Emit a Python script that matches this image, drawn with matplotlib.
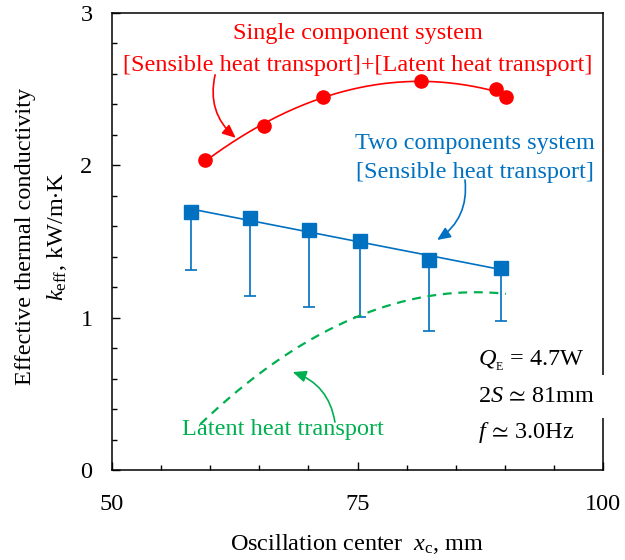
import numpy as np
import matplotlib
matplotlib.use("Agg")
import matplotlib.pyplot as plt
from matplotlib.patches import Rectangle

plt.rcParams['font.family'] = ['Liberation Serif', 'DejaVu Serif']
plt.rcParams['mathtext.fontset'] = 'custom'
plt.rcParams['mathtext.rm'] = 'Liberation Serif'
plt.rcParams['mathtext.it'] = 'Liberation Serif:italic'
plt.rcParams['mathtext.fallback'] = 'stix'

# Single component system (red circles)
x_single = [59.5, 65.5, 71.5, 81.5, 89.1, 90.1]
k_single = [2.035, 2.26, 2.45, 2.555, 2.50, 2.45]

# Two components system (blue squares) with lower error bound
x_two = [58.0, 64.05, 70.05, 75.25, 82.3, 89.6]
k_two = [1.695, 1.655, 1.575, 1.505, 1.38, 1.325]
k_two_low = [1.31, 1.143, 1.07, 1.002, 0.911, 0.976]

red = '#FF0000'
blue = '#0070C0'
green = '#00B050'
FS = 17.5

fig = plt.figure(figsize=(6.25, 5.6), dpi=100)
ax = fig.add_axes([112/625, 90/560, 491/625, 457/560])

# fits
p_red = np.polyfit(x_single, k_single, 2)
p_blue = np.polyfit(x_two, k_two, 1)
xr = np.linspace(min(x_single), max(x_single), 200)
xb = np.linspace(min(x_two), max(x_two), 200)
xg = np.linspace(59.0, max(x_single), 200)

ax.plot(xr, np.polyval(p_red, xr), color=red, lw=1.2, zorder=3)
ax.plot(x_single, k_single, 'o', color=red, ms=9.5, zorder=4)

ax.plot(xb, np.polyval(p_blue, xb), color=blue, lw=1.2, zorder=3)
lower = np.array(k_two) - np.array(k_two_low)
ax.errorbar(x_two, k_two, yerr=[lower, np.zeros_like(lower)], fmt='none',
            ecolor=blue, elinewidth=1.2, capsize=4.3, capthick=1.2, zorder=3)
ax.plot(x_two, k_two, 's', color=blue, ms=10, zorder=4)

ax.plot(xg, np.polyval(p_red, xg) - np.polyval(p_blue, xg), color=green,
        lw=1.6, ls=(0, (4, 3)), zorder=3)

ax.set_xlim(50, 100)
ax.set_ylim(0, 3)
ax.set_xticks([50, 75, 100])
ax.set_xticks(np.arange(50, 101, 5), minor=True)
ax.set_yticks([0, 1, 2, 3])
ax.set_yticks(np.arange(0, 3.01, 0.2), minor=True)
ax.tick_params(which='both', direction='in', labelsize=FS, width=1.0)
ax.tick_params(which='major', length=5.5)
ax.tick_params(which='minor', length=3.8)
ax.tick_params(axis='y', which='major', pad=14)
ax.tick_params(axis='x', which='major', pad=17)
for s in ax.spines.values():
    s.set_linewidth(1.1)

fig.text(0.5 * (112 + 603) / 625, 1 - 544 / 560,
         r'Oscillation center  $x_\mathrm{c}$, mm', fontsize=FS,
         ha='center', va='center')
fig.text(26 / 625, 1 - 236 / 560, 'Effective thermal conductivity',
         rotation=90, fontsize=FS, ha='center', va='center')
fig.text(57 / 625, 1 - 236 / 560, r'$k_\mathrm{eff}$, kW/m$\cdot$K',
         rotation=90, fontsize=FS, ha='center', va='center')

# annotations
ax.text(0.50, 0.955, 'Single component system', transform=ax.transAxes,
        ha='center', va='center', color=red, fontsize=FS)
ax.text(0.50, 0.885, '[Sensible heat transport]+[Latent heat transport]',
        transform=ax.transAxes, ha='center', va='center', color=red, fontsize=FS)
ax.text(0.74, 0.715, 'Two components system', transform=ax.transAxes,
        ha='center', va='center', color=blue, fontsize=FS)
ax.text(0.74, 0.652, '[Sensible heat transport]', transform=ax.transAxes,
        ha='center', va='center', color=blue, fontsize=FS)
ax.text(0.349, 0.088, 'Latent heat transport', transform=ax.transAxes,
        ha='center', va='center', color=green, fontsize=FS)

ax.text(0.745, 0.24, r'$Q_\mathrm{{}_E}$ = 4.7W', transform=ax.transAxes,
        ha='left', va='center', fontsize=FS)
ax.text(0.745, 0.160, r'2$S\,\simeq\,81$mm', transform=ax.transAxes,
        ha='left', va='center', fontsize=FS)
ax.text(0.745, 0.083, r'$f\,\simeq\,3.0$Hz', transform=ax.transAxes,
        ha='left', va='center', fontsize=FS)
ax.add_patch(Rectangle((0.99, (470-418)/457), 0.02, 43/457, transform=ax.transAxes,
                       facecolor='white', edgecolor='none', clip_on=False, zorder=5))

ax.annotate('', xy=(62.6, 2.18), xytext=(60.5, 2.594),
            arrowprops=dict(arrowstyle='-|>,head_length=0.8,head_width=0.35',
                            color=red, lw=1.2, connectionstyle='arc3,rad=0.3',
                            shrinkA=0, shrinkB=0))
ax.annotate('', xy=(83.1, 1.51), xytext=(85.95, 1.904),
            arrowprops=dict(arrowstyle='-|>,head_length=0.8,head_width=0.35',
                            color=blue, lw=1.2, connectionstyle='arc3,rad=-0.3',
                            shrinkA=0, shrinkB=0))
ax.annotate('', xy=(68.4, 0.643), xytext=(72.7, 0.315),
            arrowprops=dict(arrowstyle='-|>,head_length=0.8,head_width=0.35',
                            color=green, lw=1.2, connectionstyle='arc3,rad=0.3',
                            shrinkA=0, shrinkB=0))

fig.savefig('out.png', dpi=100)
